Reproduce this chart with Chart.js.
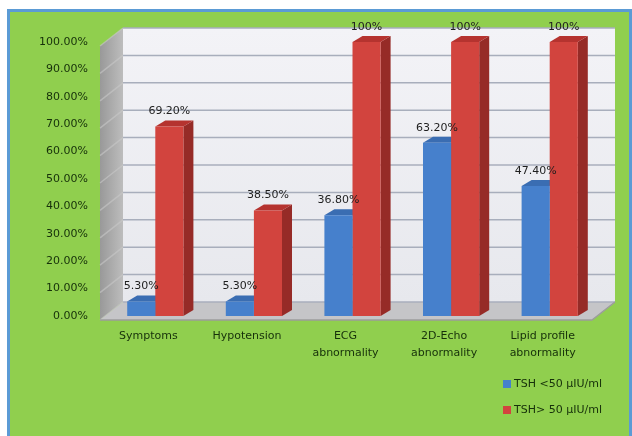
<!DOCTYPE html>
<html>
<head>
<meta charset="utf-8">
<script src="https://cdn.jsdelivr.net/npm/chart.js@4.4.1/dist/chart.umd.min.js"></script>
<style>
  html, body { margin: 0; padding: 0; background: #fff; overflow: hidden; }
  #panel { position: absolute; left: 7px; top: 9px; width: 625px; height: 440px; background: #90CF4E; border: 3px solid #5B9BD5; box-sizing: border-box; }
  #wrap { position: absolute; left: 0; top: 0; width: 632px; height: 436px; }
</style>
</head>
<body>
<div id="panel"></div>
<div id="wrap"><canvas id="chart"></canvas></div>
<script>
'use strict'

const categories = ['Symptoms', 'Hypotension', ['ECG', 'abnormality'], ['2D-Echo', 'abnormality'], ['Lipid profile', 'abnormality']];
const seriesNames = ['TSH <50 \u00B5IU/ml', 'TSH> 50 \u00B5IU/ml'];
const tshBelow50 = [5.3, 5.3, 36.8, 63.2, 47.4];
const tshAbove50 = [69.2, 38.5, 100, 100, 100];
const yMin = 0;
const yMax = 100;
const yStep = 10;

const frontColors = ['#4680CC', '#D2443E'];
const sideColors = ['#2D5C9C', '#962B27'];
const topColors = ['#3A6DB2', '#B5332F'];
const textColor = '#16300A';
const font = { family: 'DejaVu Sans', size: 11 };

const BAR_DX = 10, BAR_DY = 6;

function poly(ctx, pts, fill) {
	ctx.beginPath();
	ctx.moveTo(pts[0][0], pts[0][1]);
	for (let i = 1; i < pts.length; i++) ctx.lineTo(pts[i][0], pts[i][1]);
	ctx.closePath();
	ctx.fillStyle = fill;
	ctx.fill();
}

// back wall, side wall, floor and gridlines, drawn like the old 3D office chart
const walls = {
	id: 'walls',
	beforeDraw(chart) {
		const { ctx, chartArea: a, scales: { y } } = chart;
		const fl = a.left - 6, bl = a.left + 17;
		const fr = a.right - 7, br = a.right + 16;
		const front = v => y.getPixelForValue(v) + 4;
		const back = v => y.getPixelForValue(v) - 14;
		ctx.save();

		let g = ctx.createLinearGradient(0, back(yMax), 0, back(yMin));
		g.addColorStop(0, '#F3F3F7');
		g.addColorStop(1, '#E7E8ED');
		poly(ctx, [[bl, back(yMax)], [br, back(yMax)], [br, back(yMin)], [bl, back(yMin)]], g);

		g = ctx.createLinearGradient(fl, 0, bl, 0);
		g.addColorStop(0, '#999999');
		g.addColorStop(1, '#BDBDBD');
		poly(ctx, [[fl, front(yMax)], [bl, back(yMax)], [bl, back(yMin)], [fl, front(yMin)]], g);

		poly(ctx, [[fl, front(yMin)], [bl, back(yMin)], [br, back(yMin)], [fr, front(yMin)]], '#C5C5C8');

		ctx.lineWidth = 1.5;
		for (let v = yMin; v <= yMax; v += yStep) {
			ctx.strokeStyle = '#A8AEBC';
			ctx.beginPath();
			ctx.moveTo(bl, back(v));
			ctx.lineTo(br, back(v));
			ctx.stroke();
			ctx.strokeStyle = 'rgba(200,200,200,0.6)';
			ctx.beginPath();
			ctx.moveTo(fl, front(v));
			ctx.lineTo(bl, back(v));
			ctx.stroke();
		}
		ctx.strokeStyle = '#9C9C9C';
		ctx.lineWidth = 1.5;
		ctx.beginPath();
		ctx.moveTo(fl, front(yMin));
		ctx.lineTo(fr, front(yMin));
		ctx.lineTo(br, back(yMin));
		ctx.stroke();
		ctx.restore();
	},
	// side and top faces of each bar, under the front faces
	beforeDatasetsDraw(chart) {
		const ctx = chart.ctx;
		ctx.save();
		chart.data.datasets.forEach((ds, i) => {
			chart.getDatasetMeta(i).data.forEach(bar => {
				const { x, y, base, width } = bar.getProps(['x', 'y', 'base', 'width'], true);
				const l = x - width / 2, r = x + width / 2;
				poly(ctx, [[r, y], [r + BAR_DX, y - BAR_DY], [r + BAR_DX, base - BAR_DY], [r, base]], sideColors[i]);
				poly(ctx, [[l, y], [l + BAR_DX, y - BAR_DY], [r + BAR_DX, y - BAR_DY], [r, y]], topColors[i]);
			});
		});
		ctx.restore();
	},
	afterDatasetsDraw(chart) {
		const ctx = chart.ctx;
		ctx.save();
		ctx.font = '11px "DejaVu Sans"';
		ctx.fillStyle = '#1E1E1E';
		ctx.textAlign = 'center';
		ctx.textBaseline = 'middle';
		chart.data.datasets.forEach((ds, i) => {
			chart.getDatasetMeta(i).data.forEach((bar, j) => {
				const v = ds.data[j];
				const txt = v === 100 ? '100%' : v.toFixed(2) + '%';
				ctx.fillText(txt, bar.x, bar.y - 15);
			});
		});
		ctx.restore();
	},
	afterDraw(chart) {
		const ctx = chart.ctx;
		ctx.save();
		ctx.font = '11px "DejaVu Sans"';
		ctx.textBaseline = 'middle';
		ctx.textAlign = 'left';
		chart.data.datasets.forEach((ds, i) => {
			const yy = 384 + i * 26;
			ctx.fillStyle = ds.backgroundColor;
			ctx.fillRect(503, yy - 4, 8, 8);
			ctx.fillStyle = textColor;
			ctx.fillText(ds.label, 514, yy);
		});
		ctx.restore();
	}
};

new Chart(document.getElementById('chart'), {
	type: 'bar',
	data: {
		labels: categories,
		datasets: [
			{ label: seriesNames[0], data: tshBelow50, backgroundColor: frontColors[0], categoryPercentage: 0.57, barPercentage: 1 },
			{ label: seriesNames[1], data: tshAbove50, backgroundColor: frontColors[1], categoryPercentage: 0.57, barPercentage: 1 },
		],
	},
	options: {
		responsive: true,
		maintainAspectRatio: false,
		animation: false,
		layout: { padding: { left: 10, right: 33, top: 42, bottom: 0 } },
		plugins: {
			legend: { display: false },
			tooltip: { enabled: false },
		},
		scales: {
			x: {
				grid: { display: false, drawTicks: false },
				border: { display: false },
				ticks: { font: { ...font, lineHeight: 1.5 }, color: textColor, padding: 12, labelOffset: -7, maxRotation: 0, autoSkip: false },
				afterFit: s => { s.height = 120; },
			},
			y: {
				min: yMin,
				max: yMax,
				grid: { display: false, drawTicks: false },
				border: { display: false },
				ticks: { stepSize: yStep, font: font, color: textColor, padding: 18, callback: v => v.toFixed(2) + '%' },
				afterFit: s => { s.width = 96; },
			},
		},
	},
	plugins: [walls],
});
</script>
</body>
</html>
